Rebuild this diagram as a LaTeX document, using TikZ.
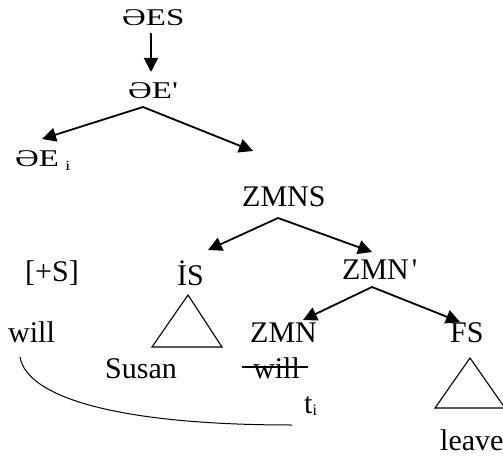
\documentclass[tikz,border=0pt]{standalone}
\usepackage{fontspec}
\setmainfont{Liberation Serif}[Ligatures=TeXOff]
\newfontfamily\wideserif{Liberation Serif}[Ligatures=TeXOff,FakeStretch=1.37]
\usetikzlibrary{arrows.meta,calc}
\begin{document}
\begin{tikzpicture}[x=1pt,y=-1pt,
  big/.style={inner sep=0pt,anchor=base west,font=\fontsize{30}{36}\selectfont},
  toplab/.style={inner sep=0pt,anchor=base west,font=\wideserif\fontsize{24}{28}\selectfont},
  arr/.style={line width=1.8pt,-{Triangle[length=14pt,width=14pt]}},
  tri/.style={line width=1.1pt,line join=miter}]
\useasboundingbox (0,0) rectangle (503,457);
% top labels
\node[toplab] (aes) at (122,26) {ƏES};
\node[toplab] (aep) at (128,99) {ƏE\char"0027};
\node[toplab] (aei) at (15,167) {ƏE\hspace{6pt}{\fontsize{14}{14}\selectfont\raisebox{-4pt}{i}}};
% lower labels
\node[big] (zmns) at (242,207) {ZMNS};
\node[big] (ps) at (25,281) {[+S]};
\node[big] (is) at (177,285) {İS};
\node[big] (zmnp) at (342,279) {ZMN\hspace{3pt}\char"0027};
\node[big] (will) at (8,342) {will};
\node[big] (zmn) at (250,342) {ZMN};
\node[big] (fs) at (450,342) {FS};
\node[big] (susan) at (105,378) {Susan};
\node[big] (ws) at (253,378) {will};
\node[big] (ti) at (304,413) {t{\fontsize{16}{16}\selectfont\raisebox{-2pt}{i}}};
\node[big] (leave) at (440,450) {leave};
% connector points
\coordinate (c0) at (151,33);
\coordinate (c0t) at (151,72);
\coordinate (c1) at (143,107);
\coordinate (c1l) at (42,139);
\coordinate (c1r) at (253,151);
\coordinate (c2) at (278,218);
\coordinate (c2l) at (208,250);
\coordinate (c2r) at (372,252);
\coordinate (c3) at (372,287);
\coordinate (c3l) at (303,320);
\coordinate (c3r) at (460,322);
\draw[arr] (c0) -- (c0t);
\draw[arr] (c1) -- (c1l);
\draw[arr] (c1) -- (c1r);
\draw[arr] (c2) -- (c2l);
\draw[arr] (c2) -- (c2r);
\draw[arr] (c3) -- (c3l);
\draw[arr] (c3) -- (c3r);
% triangles
\draw[tri] (188,295) -- (152,347) -- (222,347) -- cycle;
\draw[tri] (470,358) -- (435,408) -- (505,408) -- cycle;
% strike-through
\draw[line width=1.4pt] ($(ws.base west)+(-11,-11)$) -- ($(ws.base east)+(8,-11)$);
% movement curve
\coordinate (m0) at (20,357);
\coordinate (m1) at (292,425);
\draw[line width=1pt] (m0) .. controls (27,398) and (120,425) .. (m1);
\end{tikzpicture}
\end{document}
